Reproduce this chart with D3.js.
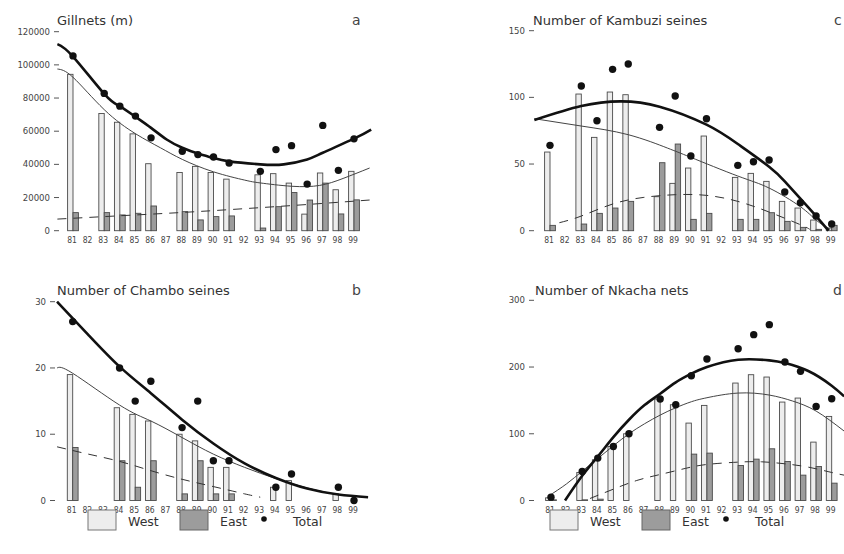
<!DOCTYPE html>
<html lang="en">
<head>
<meta charset="UTF-8">
<title>Fishing gear trends 1981-1999</title>
<script src="https://d3js.org/d3.v7.min.js"></script>
<style>
  body { margin: 0; background: #fff; }
  svg { display: block; font-family: "DejaVu Sans", sans-serif; }
  .ylab { font-size: 9.5px; fill: #444; font-family: "DejaVu Sans Condensed", "DejaVu Sans", sans-serif; }
  .xlab { font-size: 8.5px; fill: #444; font-family: "DejaVu Sans Condensed", "DejaVu Sans", sans-serif; }
  .title { font-size: 13px; fill: #333; }
  .letter { font-size: 14px; fill: #444; }
  .legend { font-size: 12.5px; fill: #333; }
</style>
</head>
<body>
<svg id="chart"></svg>
<script>
const width = 844, height = 554;

// years on the x axis (19..)
const years = [81, 82, 83, 84, 85, 86, 87, 88, 89, 90, 91, 92, 93, 94, 95, 96, 97, 98, 99];

// a - gillnets (m)
const gillWest  = [94300, null, 70700, 65400, 58400, 40400, null, 35100, 38800, 35100, 31100, null, 33700, 34400, 28700, 10000, 34800, 24700, 35800];
const gillEast  = [10900, null, 10900, 9500, 10500, 14900, null, 11500, 6500, 8500, 8900, null, 1600, 14500, 23000, 18500, 28700, 10100, 18600];
const gillTotal = [105400, null, 82800, 75100, 69100, 56000, null, 47900, 45900, 44400, 40800, null, 35800, 48900, 51300, 28100, 63500, 36400, 55400];
const gillTrendTotal = [[80, 112500], [81, 105000], [83, 82500], [84, 75000], [85, 68700], [86, 62000], [87, 55000], [88, 50000], [89, 46500], [90, 43800], [91, 41800], [93, 40000], [94.5, 40000], [96, 43000], [97, 47000], [99, 55500], [100.1, 61000]];
const gillTrendWest  = [[80, 97500], [81, 92500], [83, 73000], [85, 58500], [86.6, 50000], [88, 43000], [90, 35500], [92, 30500], [93, 28800], [95, 26800], [96.8, 27300], [98.3, 31500], [100, 37800]];
const gillTrendEast  = [[80, 7000], [84, 9000], [88, 11000], [92, 13300], [96, 15800], [100, 18500]];
const gillTicks = [0, 20000, 40000, 60000, 80000, 100000, 120000];

// b - Chambo seines
const chamboWest  = [19, null, null, 14, 13, 12, null, 10, 9, 5, 5, null, null, 2, 3, null, null, 1, 0];
const chamboEast  = [8, null, null, 6, 2, 6, null, 1, 6, 1, 1, null, null, 0, 0, null, null, 0, 0];
const chamboTotal = [27, null, null, 20, 15, 18, null, 11, 15, 6, 6, null, null, 2, 4, null, null, 2, 0];
const chamboTrendTotal = [[80, 30], [82, 25], [84, 20.2], [86, 16.2], [88, 12.2], [90, 8.6], [92, 5.6], [94, 3.4], [96, 1.8], [98, 0.9], [99.9, 0.5]];
const chamboTrendWest  = [[80, 20], [81, 19.2], [84, 14.4], [86, 12], [88, 9.5], [90, 7], [92, 5], [94, 3.3], [96, 1.9], [98, 0.9], [99.9, 0.5]];
const chamboTrendEast  = [[80, 8.1], [82, 7], [84, 5.9], [86, 4.5], [88, 3.2], [90, 2.1], [92, 1], [93, 0.5]];
const chamboTicks = [0, 10, 20, 30];

// c - Kambuzi seines
const kambuziWest  = [59, null, 102.5, 70, 104, 102, null, 25.5, 35.5, 47, 71, null, 40, 43, 37, 22, 17, 8, 2];
const kambuziEast  = [4, null, 5, 13, 17, 22, null, 51, 65, 8.5, 13, null, 8.5, 8.5, 13.5, 7, 2.5, 1, 4];
const kambuziTotal = [64, null, 108.5, 82.5, 121, 125, null, 77.5, 101, 56, 84, null, 49, 51.7, 53, 29, 21, 11, 5];
const kambuziTrendTotal = [[80, 83], [83, 93.5], [85.5, 97], [88, 93], [91, 79.5], [93, 65], [95, 48], [96, 37], [97, 24], [98, 11], [98.8, 0]];
const kambuziTrendWest  = [[80, 84], [83, 78.5], [86, 72], [88.5, 62], [90, 55], [93, 41], [95, 32], [97, 18], [98, 8], [98.9, 1]];
const kambuziTrendEast  = [[81.6, 6], [83, 11], [85, 20], [87, 25], [89, 27], [91, 26.5], [93, 22], [95, 14], [97, 4.5], [97.6, 1]];
const kambuziTicks = [0, 50, 100, 150];

// d - Nkacha nets
const nkachaWest  = [4, null, 42, 61, 81, 100, null, 152, 143.5, 116, 142.5, null, 176, 188.5, 185, 147.5, 153.5, 87.5, 126];
const nkachaEast  = [1, null, 1, 2, 0, 0, null, 0, 0, 69.5, 71, null, 52.5, 62, 77.5, 58.5, 38, 51, 26];
const nkachaTotal = [5, null, 43.5, 63.5, 81, 100, null, 152, 143.5, 187, 212, null, 227.5, 248.5, 263.5, 207.5, 193.5, 141, 152.5];
const nkachaTrendTotal = [[81.9, 0], [83, 37], [84, 66], [85, 95], [86, 121], [87, 143], [88, 160], [89, 177], [90, 190], [91, 200], [93, 211], [95, 210], [96, 206], [97.5, 194], [99, 172], [99.8, 156]];
const nkachaTrendWest  = [[80.8, 6], [82, 25], [83, 44], [84, 63], [85, 82], [86, 100], [87, 115], [88, 128], [89, 139], [90, 148], [91, 154], [93, 161], [95, 158], [96.5, 149], [98, 134], [99.8, 104]];
const nkachaTrendEast  = [[83.5, 3], [85, 17], [86.5, 30], [88, 39], [89.6, 48], [91, 54], [93, 57.5], [94.5, 58], [96, 55], [97.5, 50], [99, 42], [99.8, 38]];
const nkachaTicks = [0, 100, 200, 300];

const legendItems = ["West", "East", "Total"];

// panel layout (pixel positions only)
const panels = [
  { letter: "a", title: "Gillnets (m)", west: gillWest, east: gillEast, total: gillTotal,
    tTotal: gillTrendTotal, tWest: gillTrendWest, tEast: gillTrendEast, ticks: gillTicks,
    xr: [73, 354], yr: [230.7, 31.7], labRight: 50, titleX: 57, titleY: 25, letterX: 352, letterY: 25 },
  { letter: "b", title: "Number of Chambo seines", west: chamboWest, east: chamboEast, total: chamboTotal,
    tTotal: chamboTrendTotal, tWest: chamboTrendWest, tEast: chamboTrendEast, ticks: chamboTicks,
    xr: [72.7, 354], yr: [500.5, 301.7], labRight: 46, titleX: 57, titleY: 295, letterX: 352, letterY: 295 },
  { letter: "c", title: "Number of Kambuzi seines", west: kambuziWest, east: kambuziEast, total: kambuziTotal,
    tTotal: kambuziTrendTotal, tWest: kambuziTrendWest, tEast: kambuziTrendEast, ticks: kambuziTicks,
    xr: [550, 831.7], yr: [230.7, 30.7], labRight: 525, titleX: 533, titleY: 25, letterX: 834, letterY: 25 },
  { letter: "d", title: "Number of Nkacha nets", west: nkachaWest, east: nkachaEast, total: nkachaTotal,
    tTotal: nkachaTrendTotal, tWest: nkachaTrendWest, tEast: nkachaTrendEast, ticks: nkachaTicks,
    xr: [551, 831.7], yr: [500.5, 300.3], labRight: 525, titleX: 535, titleY: 295, letterX: 833, letterY: 295 }
];

const svg = d3.select("#chart").attr("width", width).attr("height", height);
const barW = 5.4;

panels.forEach(p => {
  const x = d3.scaleLinear().domain([81, 99]).range(p.xr);
  const y = d3.scaleLinear().domain([0, d3.max(p.ticks)]).range(p.yr);
  const g = svg.append("g");

  // y tick labels with little dashes, no axis line
  p.ticks.forEach(t => {
    g.append("text").attr("class", "ylab")
      .attr("x", p.labRight).attr("y", y(t) + 3)
      .attr("text-anchor", "end").text(d3.format("d")(t));
    g.append("line")
      .attr("x1", p.labRight + 4).attr("x2", p.labRight + 9)
      .attr("y1", y(t)).attr("y2", y(t))
      .attr("stroke", "#555").attr("stroke-width", 1);
  });

  // x labels
  years.forEach(yr => {
    g.append("text").attr("class", "xlab")
      .attr("x", x(yr) - 1).attr("y", p.yr[0] + 12)
      .attr("text-anchor", "middle").text(yr);
  });

  // bars
  const rows = years.map((yr, i) => ({ yr, w: p.west[i], e: p.east[i], t: p.total[i] }));
  g.selectAll(".west").data(rows.filter(d => d.w)).enter().append("rect")
    .attr("x", d => x(d.yr) - barW).attr("width", barW)
    .attr("y", d => y(d.w)).attr("height", d => y(0) - y(d.w))
    .attr("fill", "#ededed").attr("stroke", "#4a4a4a").attr("stroke-width", 0.9);
  g.selectAll(".east").data(rows.filter(d => d.e)).enter().append("rect")
    .attr("x", d => x(d.yr)).attr("width", barW)
    .attr("y", d => y(d.e)).attr("height", d => y(0) - y(d.e))
    .attr("fill", "#9c9c9c").attr("stroke", "#4a4a4a").attr("stroke-width", 0.9);

  // trend lines
  const line = d3.line().x(d => x(d[0])).y(d => y(d[1])).curve(d3.curveNatural);
  g.append("path").attr("d", line(p.tEast)).attr("fill", "none")
    .attr("stroke", "#333").attr("stroke-width", 1).attr("stroke-dasharray", "9,7");
  g.append("path").attr("d", line(p.tWest)).attr("fill", "none")
    .attr("stroke", "#444").attr("stroke-width", 1);
  g.append("path").attr("d", line(p.tTotal)).attr("fill", "none")
    .attr("stroke", "#111").attr("stroke-width", 2.6);

  // totals
  g.selectAll(".dot").data(rows.filter(d => d.t !== null)).enter().append("circle")
    .attr("cx", d => x(d.yr)).attr("cy", d => y(d.t)).attr("r", 3.7)
    .attr("fill", "#111");

  g.append("text").attr("class", "title").attr("x", p.titleX).attr("y", p.titleY).text(p.title);
  g.append("text").attr("class", "letter").attr("x", p.letterX).attr("y", p.letterY).text(p.letter);
});

// legends under each column
function drawLegend(x0) {
  const lg = svg.append("g").attr("transform", `translate(${x0},0)`);
  lg.append("rect").attr("x", 0).attr("y", 510).attr("width", 28).attr("height", 20)
    .attr("fill", "#ededed").attr("stroke", "#777");
  lg.append("text").attr("class", "legend").attr("x", 40).attr("y", 526).text(legendItems[0]);
  lg.append("rect").attr("x", 92).attr("y", 510).attr("width", 28).attr("height", 20)
    .attr("fill", "#9c9c9c").attr("stroke", "#666");
  lg.append("text").attr("class", "legend").attr("x", 132).attr("y", 526).text(legendItems[1]);
  lg.append("circle").attr("cx", 176).attr("cy", 519).attr("r", 2.8).attr("fill", "#111");
  lg.append("text").attr("class", "legend").attr("x", 205).attr("y", 526).text(legendItems[2]);
}
drawLegend(88);
drawLegend(550);
</script>
</body>
</html>
